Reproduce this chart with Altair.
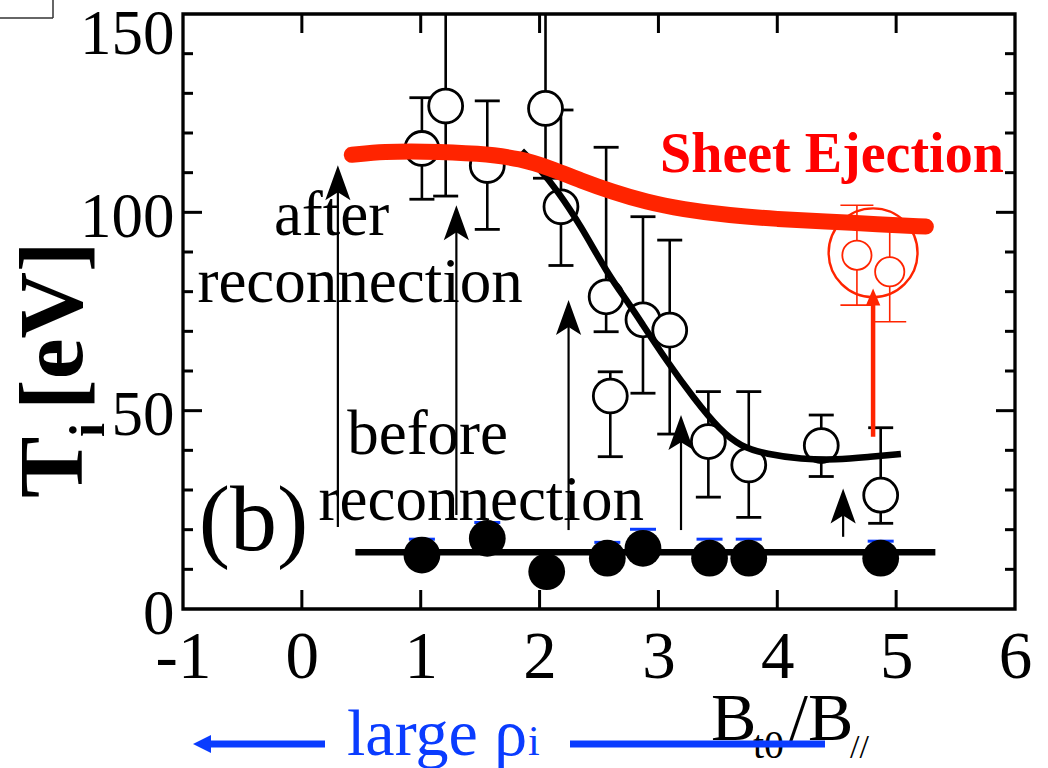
import altair as alt
import pandas as pd

# ---------------- data ----------------
# open circles: T_i after reconnection
after_x  = [1.01, 1.21, 1.56, 2.05, 2.18, 2.56, 2.595, 2.87, 3.095, 3.42, 3.76, 4.37, 4.87]
after_y  = [116.1, 126.8, 111.8, 126.2, 101.4, 78.7, 53.7, 72.9, 70.3, 42.2, 36.3, 41.2, 28.7]
after_lo = [103.3, 104.1, 95.7, 108.6, 86.6, 69.9, 38.4, 54.4, 44.1, 28.2, 23.1, 33.4, 21.6]
after_hi = [128.9, 150.0, 128.1, 150.0, 125.8, 116.4, 59.8, 98.9, 93.0, 54.8, 54.8, 48.9, 45.7]

# filled circles: T_i before reconnection
before_x = [1.01, 1.56, 2.06, 2.57, 2.87, 3.43, 3.76, 4.87]
before_y = [13.6, 17.8, 9.4, 12.8, 15.3, 12.8, 12.8, 12.8]
blue_cap_x = [1.01, 1.56, 2.57, 2.87, 3.43, 3.76, 4.87]
blue_cap_y = [17.6, 21.8, 16.8, 20.1, 17.6, 17.6, 17.1]
base_x = [0.45, 5.33]
base_y = [14.3, 14.3]

# sheet ejection (red)
red_x  = [4.67, 4.946]
red_y  = [89.2, 85.0]
red_lo = [76.6, 72.4]
red_hi = [101.8, 96.5]
ring_x, ring_y = [4.806], [89.8]
red_arrow_x, red_arrow_from, red_arrow_to = [4.806], [43.4], [80.8]

# fitted curves
red_fit_x = [0.42, 0.7, 1.0, 1.5, 1.85, 2.09, 2.35, 2.61, 2.9, 3.2, 3.6, 4.0, 4.4, 4.85, 5.25]
red_fit_y = [114.5, 115.3, 115.4, 114.9, 113.5, 111.1, 108.0, 105.2, 102.6, 100.8, 99.2, 98.3, 97.7, 97.0, 96.4]
blk_fit_x = [1.85, 2.0, 2.15, 2.35, 2.57, 2.74, 2.85, 3.07, 3.3, 3.52, 3.69, 3.91, 4.2, 4.5, 4.76, 5.04]
blk_fit_y = [115.5, 111.0, 105.5, 96.5, 84.6, 77.5, 72.5, 62.5, 53.0, 45.0, 41.0, 39.0, 37.8, 37.6, 38.3, 39.1]

# black arrows (before -> after)
arrow_x    = [0.303, 1.30, 2.244, 3.19, 4.554]
arrow_from = [20.7, 23.7, 19.9, 19.9, 18.2]
arrow_to   = [111.9, 101.8, 77.9, 48.9, 30.4]

# tick values
x_labels = [-1, 0, 1, 2, 3, 4, 5, 6]
y_labels = [0, 50, 100, 150]
x_ticks = [0, 1, 2, 3, 4, 5]
y_major = [50, 100]
y_minor = [10, 20, 30, 40, 60, 70, 80, 90, 110, 120, 130, 140]

# annotations
ann_text = ["after", "reconnection", "before", "reconnection"]
ann_x = [0.25, 0.49, 1.058, 1.509]
ann_y = [94.3, 77.4, 39.2, 22.4]

W, H = 832, 595
SERIF = "Liberation Serif"
RED = "#ff2400"
BLUE = "#0a3cff"

xs = alt.Scale(domain=[-1, 6], nice=False, zero=False)
ys = alt.Scale(domain=[0, 150], nice=False, zero=False)
xaxis = alt.Axis(values=x_labels, ticks=False, domain=False, grid=False, title="",
                 labelFont=SERIF, labelFontSize=67, labelPadding=15, labelColor="black",
                 labelFlush=False, labelOverlap=False, labelExpr="'' + datum.value")
yaxis = alt.Axis(values=y_labels, ticks=False, domain=False, grid=False, title="",
                 labelFont=SERIF, labelFontSize=63, labelPadding=9, labelColor="black",
                 labelFlush=False, labelOverlap=False, labelBaseline="middle",
                 labelOffset={"condition": {"test": "datum.value == 150", "value": 20}, "value": 5})


def X(f):
    return alt.X(f, type="quantitative", scale=xs, axis=xaxis)


def Y(f):
    return alt.Y(f, type="quantitative", scale=ys, axis=yaxis)


one = pd.DataFrame({"k": [0]})
layers = []

# ---- inward ticks on all four sides ----
xt = pd.DataFrame({"v": x_ticks})
ymaj = pd.DataFrame({"v": y_major})
ymin = pd.DataFrame({"v": y_minor})
tk = dict(color="black", strokeWidth=3)
layers += [
    alt.Chart(xt).mark_rule(**tk).encode(x=X("v"), y=alt.value(H), y2=alt.value(H - 19)),
    alt.Chart(xt).mark_rule(**tk).encode(x=X("v"), y=alt.value(0), y2=alt.value(19)),
    alt.Chart(ymaj).mark_rule(**tk).encode(y=Y("v"), x=alt.value(0), x2=alt.value(19)),
    alt.Chart(ymaj).mark_rule(**tk).encode(y=Y("v"), x=alt.value(W), x2=alt.value(W - 19)),
    alt.Chart(ymin).mark_rule(**tk).encode(y=Y("v"), x=alt.value(0), x2=alt.value(10)),
    alt.Chart(ymin).mark_rule(**tk).encode(y=Y("v"), x=alt.value(W), x2=alt.value(W - 10)),
]

# ---- black arrows ----
arr = pd.DataFrame({"x": arrow_x, "y0": arrow_from, "y1": arrow_to})
arr["y1s"] = arr["y1"] - 3
layers += [
    alt.Chart(arr).mark_rule(color="black", strokeWidth=2.2).encode(x=X("x"), y=Y("y0"), y2=alt.Y2("y1s")),
    alt.Chart(arr).mark_point(shape="M0,0 L-0.72,2 L0,1.55 L0.72,2 Z", filled=True, color="black",
                              opacity=1, size=1225, strokeWidth=0).encode(x=X("x"), y=Y("y1")),
]

# ---- annotation texts ----
ann = pd.DataFrame({"t": ann_text, "x": ann_x, "y": ann_y})
layers += [
    alt.Chart(ann).mark_text(font=SERIF, fontSize=63, color="black", align="center",
                             baseline="alphabetic").encode(x=X("x"), y=Y("y"), text="t:N"),
    alt.Chart(pd.DataFrame({"t": ["(b)"], "x": [-0.406], "y": [14.9]})).mark_text(
        font=SERIF, fontSize=94, color="black", align="center", baseline="alphabetic"
    ).encode(x=X("x"), y=Y("y"), text="t:N"),
]

# ---- before reconnection ----
bc = pd.DataFrame({"x": blue_cap_x, "y": blue_cap_y})
base = pd.DataFrame({"x": base_x, "y": base_y})
bef = pd.DataFrame({"x": before_x, "y": before_y})
layers += [
    alt.Chart(bc).mark_tick(orient="horizontal", size=26, thickness=3, color=BLUE, opacity=1).encode(x=X("x"), y=Y("y")),
    alt.Chart(base).mark_line(color="black", strokeWidth=6.5).encode(x=X("x"), y=Y("y")),
    alt.Chart(bef).mark_circle(size=1350, color="black", opacity=1).encode(x=X("x"), y=Y("y")),
]

# ---- after reconnection ----
aft = pd.DataFrame({"x": after_x, "y": after_y, "lo": after_lo, "hi": after_hi})
top_caps = aft[aft["hi"] < 150]
layers += [
    alt.Chart(aft).mark_rule(color="black", strokeWidth=2.6).encode(x=X("x"), y=Y("lo"), y2=alt.Y2("hi")),
    alt.Chart(aft).mark_tick(orient="horizontal", size=25, thickness=2.8, color="black", opacity=1).encode(x=X("x"), y=Y("lo")),
    alt.Chart(top_caps).mark_tick(orient="horizontal", size=25, thickness=2.8, color="black", opacity=1).encode(x=X("x"), y=Y("hi")),
    alt.Chart(aft).mark_circle(size=1150, fill="white", stroke="black", strokeWidth=2.8, opacity=1).encode(x=X("x"), y=Y("y")),
]

# ---- black fit ----
bf = pd.DataFrame({"x": blk_fit_x, "y": blk_fit_y})
layers.append(alt.Chart(bf).mark_line(color="black", strokeWidth=6.5, interpolate="basis").encode(x=X("x"), y=Y("y")))

# ---- sheet ejection (red) ----
rd = pd.DataFrame({"x": red_x, "y": red_y, "lo": red_lo, "hi": red_hi})
ring = pd.DataFrame({"x": ring_x, "y": ring_y})
ra = pd.DataFrame({"x": red_arrow_x, "y0": red_arrow_from, "y1": red_arrow_to})
ra["y1s"] = ra["y1"] - 2
layers += [
    alt.Chart(rd).mark_rule(color=RED, strokeWidth=1.6).encode(x=X("x"), y=Y("lo"), y2=alt.Y2("hi")),
    alt.Chart(rd).mark_tick(orient="horizontal", size=33, thickness=1.6, color=RED, opacity=1).encode(x=X("x"), y=Y("lo")),
    alt.Chart(rd).mark_tick(orient="horizontal", size=33, thickness=1.6, color=RED, opacity=1).encode(x=X("x"), y=Y("hi")),
    alt.Chart(rd).mark_circle(size=855, fill="white", stroke=RED, strokeWidth=1.8, opacity=1).encode(x=X("x"), y=Y("y")),
    alt.Chart(ring).mark_point(shape="circle", size=7900, filled=False, color=RED, strokeWidth=2.4, opacity=1).encode(x=X("x"), y=Y("y")),
    alt.Chart(ra).mark_rule(color=RED, strokeWidth=4.5).encode(x=X("x"), y=Y("y0"), y2=alt.Y2("y1s")),
    alt.Chart(ra).mark_point(shape="M0,0 L-0.85,2 L0.85,2 Z", filled=True, color=RED, opacity=1,
                             size=289, strokeWidth=0).encode(x=X("x"), y=Y("y1")),
]

rf = pd.DataFrame({"x": red_fit_x, "y": red_fit_y})
layers += [
    alt.Chart(rf).mark_line(color=RED, strokeWidth=16, strokeCap="round", interpolate="basis").encode(x=X("x"), y=Y("y")),
    alt.Chart(pd.DataFrame({"t": ["Sheet Ejection"], "x": [4.46], "y": [110.2]})).mark_text(
        font=SERIF, fontSize=56, fontWeight="bold", color="#ff0000", align="center", baseline="alphabetic"
    ).encode(x=X("x"), y=Y("y"), text="t:N"),
]

# ---- y-axis title: T_i [eV] (rotated) ----
layers += [
    alt.Chart(one).mark_text(text="T", font=SERIF, fontSize=92, fontWeight="bold", angle=270,
                             align="left", baseline="alphabetic", color="black").encode(x=alt.value(-101), y=alt.value(484)),
    alt.Chart(one).mark_text(text="i", font=SERIF, fontSize=50, fontWeight="bold", angle=270,
                             align="left", baseline="alphabetic", color="black").encode(x=alt.value(-79), y=alt.value(423)),
    alt.Chart(one).mark_text(text="[eV]", font=SERIF, fontSize=92, fontWeight="bold", angle=270,
                             align="left", baseline="alphabetic", color="black").encode(x=alt.value(-101), y=alt.value(396)),
]

# ---- x-axis title: B_t0 / B_// ----
layers += [
    alt.Chart(one).mark_text(text="B", font=SERIF, fontSize=68, align="left", baseline="alphabetic",
                             color="black").encode(x=alt.value(528), y=alt.value(726)),
    alt.Chart(one).mark_text(text="t0", font=SERIF, fontSize=40, align="left", baseline="alphabetic",
                             color="black").encode(x=alt.value(570), y=alt.value(744)),
    alt.Chart(one).mark_text(text="/B", font=SERIF, fontSize=68, align="left", baseline="alphabetic",
                             color="black").encode(x=alt.value(606), y=alt.value(726)),
    alt.Chart(one).mark_text(text="//", font=SERIF, fontSize=34, align="left", baseline="alphabetic",
                             color="black").encode(x=alt.value(667), y=alt.value(744)),
]

# ---- blue "large rho_i" arrow ----
layers += [
    alt.Chart(one).mark_rule(color=BLUE, strokeWidth=7).encode(x=alt.value(26), x2=alt.value(142), y=alt.value(730)),
    alt.Chart(one).mark_point(shape="M0,0 L2,-1 L2,1 Z", filled=True, color=BLUE, opacity=1, size=324,
                              strokeWidth=0).encode(x=alt.value(10), y=alt.value(730)),
    alt.Chart(one).mark_rule(color=BLUE, strokeWidth=7).encode(x=alt.value(387), x2=alt.value(642), y=alt.value(730)),
    alt.Chart(one).mark_text(text="large ρ", font=SERIF, fontSize=66, align="left", baseline="alphabetic",
                             color=BLUE).encode(x=alt.value(164), y=alt.value(741)),
    alt.Chart(one).mark_text(text="i", font=SERIF, fontSize=42, align="left", baseline="alphabetic",
                             color=BLUE).encode(x=alt.value(345), y=alt.value(741)),
]

# ---- fragment of a neighbouring frame at the top-left corner ----
layers += [
    alt.Chart(one).mark_rule(color="#333333", strokeWidth=1.5).encode(x=alt.value(-183), x2=alt.value(-130), y=alt.value(4)),
    alt.Chart(one).mark_rule(color="#333333", strokeWidth=1.5).encode(x=alt.value(-130), y=alt.value(-14), y2=alt.value(4)),
]

chart = alt.layer(*layers).properties(
    width=W, height=H,
    autosize=alt.AutoSizeParams(type="none"),
    padding={"left": 183, "top": 14, "right": 33, "bottom": 159},
    background="white",
).configure_view(stroke="black", strokeWidth=3.3)

chart.save("out.html", embed_options={"renderer": "svg", "actions": False})
